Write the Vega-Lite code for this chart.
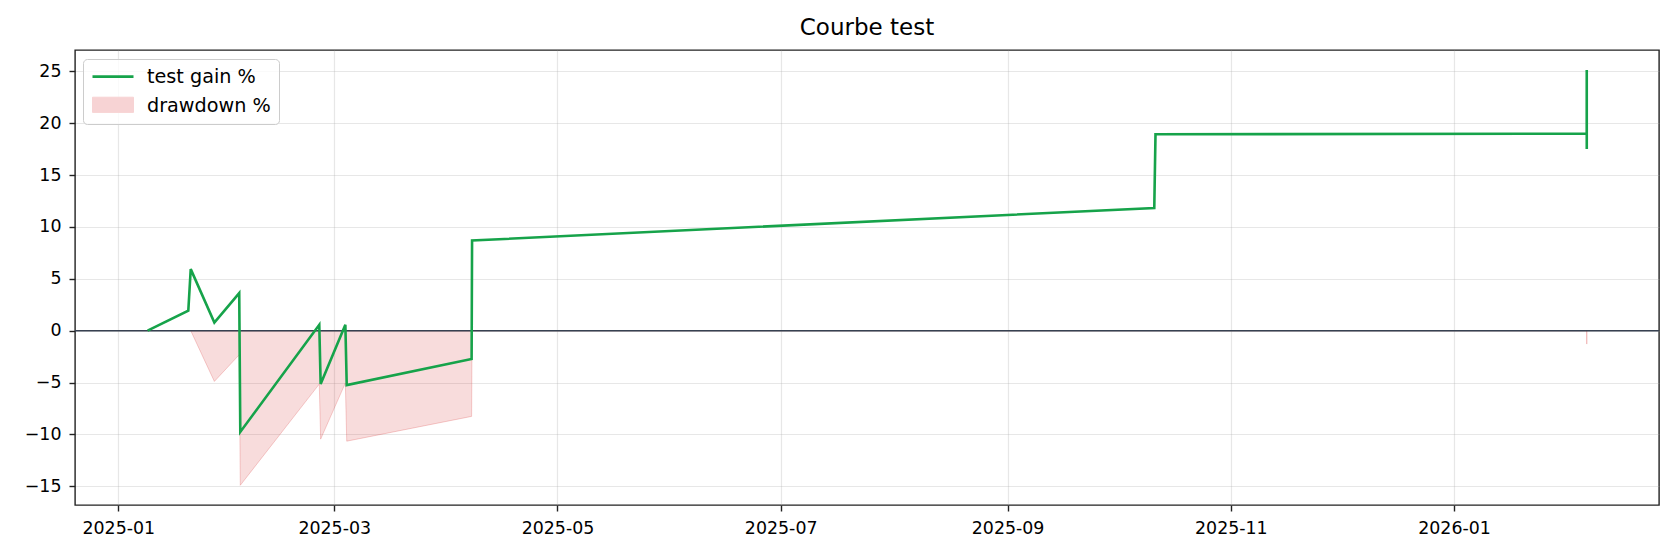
{
  "$schema": "https://vega.github.io/schema/vega-lite/v6.json",
  "width": 1584,
  "height": 455,
  "autosize": "none",
  "padding": {"left": 75, "top": 50, "right": 21, "bottom": 55},
  "background": "white",
  "title": {
    "text": "Courbe test",
    "font": "DejaVu Sans",
    "fontSize": 23,
    "fontWeight": "normal",
    "color": "#000000",
    "anchor": "middle",
    "baseline": "bottom",
    "offset": 8,
    "dy": 21
  },
  "datasets": {
    "gain": [
      {"date": "2025-01-09T00:00:00Z", "value": 0},
      {"date": "2025-01-20T03:00:00Z", "value": 1.92},
      {"date": "2025-01-20T19:00:00Z", "value": 5.93},
      {"date": "2025-01-27T06:00:00Z", "value": 0.79},
      {"date": "2025-02-03T01:00:00Z", "value": 3.62},
      {"date": "2025-02-03T08:00:00Z", "value": -9.76},
      {"date": "2025-02-24T22:00:00Z", "value": 0.57},
      {"date": "2025-02-25T07:00:00Z", "value": -5.14},
      {"date": "2025-03-04T01:00:00Z", "value": 0.57},
      {"date": "2025-03-04T10:00:00Z", "value": -5.24},
      {"date": "2025-04-07T13:00:00Z", "value": -2.73},
      {"date": "2025-04-07T16:00:00Z", "value": 8.69},
      {"date": "2025-10-11T02:00:00Z", "value": 11.83},
      {"date": "2025-10-11T10:00:00Z", "value": 18.93},
      {"date": "2026-02-06T06:00:00Z", "value": 18.99},
      {"date": "2026-02-06T06:10:00Z", "value": 25.12},
      {"date": "2026-02-06T06:20:00Z", "value": 17.52}
    ],
    "drawdown": [
      {"date": "2025-01-20T19:00:00Z", "value": 0},
      {"date": "2025-01-27T06:00:00Z", "value": -4.89},
      {"date": "2025-02-03T01:00:00Z", "value": -2.32},
      {"date": "2025-02-03T08:00:00Z", "value": -14.9},
      {"date": "2025-02-24T22:00:00Z", "value": -5.15},
      {"date": "2025-02-25T07:00:00Z", "value": -10.45},
      {"date": "2025-03-04T01:00:00Z", "value": -5.05},
      {"date": "2025-03-04T10:00:00Z", "value": -10.65},
      {"date": "2025-04-07T13:00:00Z", "value": -8.26},
      {"date": "2025-04-07T16:00:00Z", "value": 0},
      {"date": "2026-02-06T06:00:00Z", "value": 0},
      {"date": "2026-02-06T06:10:00Z", "value": 0},
      {"date": "2026-02-06T06:20:00Z", "value": -1.29}
    ],
    "zero": [
      {"level": 0}
    ]
  },
  "layer": [
    {
      "data": {"name": "drawdown"},
      "mark": {
        "type": "area",
        "fillOpacity": 0.16,
        "stroke": "#d62728",
        "strokeOpacity": 0.22,
        "strokeWidth": 1
      },
      "encoding": {
        "x": {
          "field": "date",
          "type": "temporal",
          "scale": {
            "type": "utc",
            "domain": [
              {"year": 2024, "month": 12, "date": 20, "hours": 4, "utc": true},
              {"year": 2026, "month": 2, "date": 26, "utc": true}
            ]
          },
          "axis": {
            "title": null,
            "format": "%Y-%m",
            "values": [
              {"year": 2025, "month": 1, "date": 1, "utc": true},
              {"year": 2025, "month": 3, "date": 1, "utc": true},
              {"year": 2025, "month": 5, "date": 1, "utc": true},
              {"year": 2025, "month": 7, "date": 1, "utc": true},
              {"year": 2025, "month": 9, "date": 1, "utc": true},
              {"year": 2025, "month": 11, "date": 1, "utc": true},
              {"year": 2026, "month": 1, "date": 1, "utc": true}
            ],
            "labelPadding": 8
          }
        },
        "y": {
          "field": "value",
          "type": "quantitative",
          "scale": {"domain": [-16.8, 27.05], "nice": false, "zero": false},
          "axis": {"title": null, "values": [-15, -10, -5, 0, 5, 10, 15, 20, 25], "labelPadding": 8}
        },
        "y2": {"datum": 0},
        "fill": {
          "datum": "drawdown %",
          "scale": {"domain": ["drawdown %"], "range": ["#d62728"]},
          "legend": {
            "title": null,
            "orient": "none",
            "legendX": 17,
            "legendY": 45.2,
            "padding": 0,
            "labelOpacity": 0,
            "labelFontSize": 19.2,
            "labelOffset": 12,
            "symbolType": "M-1,-0.37H1V0.37H-1Z",
            "symbolSize": 1681,
            "symbolStrokeWidth": 1,
            "clipHeight": 19.2
          }
        }
      }
    },
    {
      "data": {"name": "zero"},
      "mark": {"type": "rule", "color": "#374151", "strokeWidth": 1.4},
      "encoding": {"y": {"field": "level", "type": "quantitative"}}
    },
    {
      "data": {"name": "gain"},
      "mark": {"type": "line", "strokeWidth": 2.6},
      "encoding": {
        "x": {"field": "date", "type": "temporal"},
        "y": {"field": "value", "type": "quantitative"},
        "stroke": {
          "datum": "test gain %",
          "scale": {"domain": ["test gain %", "drawdown %"], "range": ["#16a34a", "rgba(0,0,0,0)"]},
          "legend": {
            "title": null,
            "orient": "none",
            "legendX": 8,
            "legendY": 9,
            "zindex": 0,
            "fillColor": "rgba(255,255,255,0.8)",
            "strokeColor": "#cccccc",
            "cornerRadius": 4,
            "padding": 8,
            "labelFont": "DejaVu Sans",
            "labelFontSize": 19.2,
            "labelColor": "#000000",
            "labelOffset": 12,
            "symbolType": "stroke",
            "symbolSize": 1681,
            "symbolStrokeWidth": 2.6,
            "rowPadding": 9,
            "clipHeight": 19.2
          }
        }
      }
    }
  ],
  "config": {
    "font": "DejaVu Sans",
    "view": {"stroke": "#222222", "strokeWidth": 1.4},
    "axis": {
      "domain": false,
      "grid": true,
      "gridColor": "#b0b0b0",
      "gridOpacity": 0.3,
      "gridWidth": 1.2,
      "ticks": true,
      "tickColor": "#222222",
      "tickSize": 6,
      "tickWidth": 1.4,
      "labelFont": "DejaVu Sans",
      "labelFontSize": 17.4,
      "labelColor": "#000000",
      "labelFlush": false,
      "labelOverlap": false
    }
  }
}
